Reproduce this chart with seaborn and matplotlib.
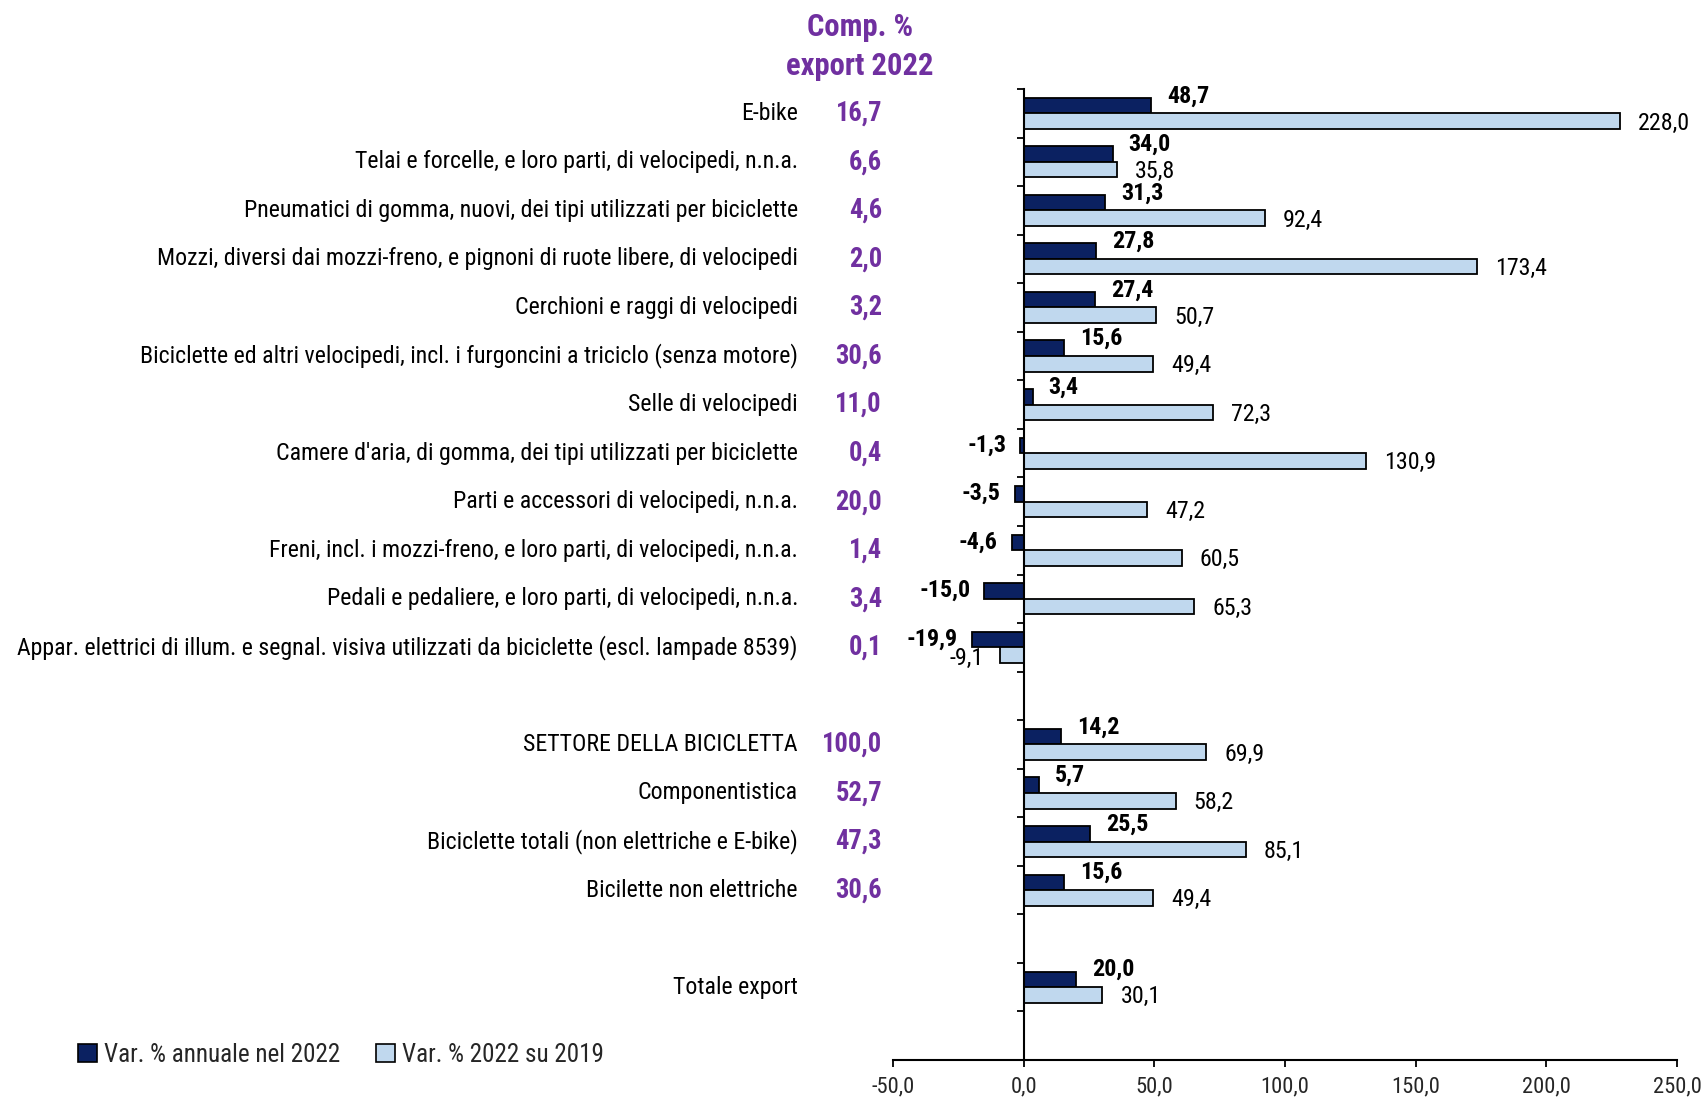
import numpy as np
import pandas as pd
import matplotlib
matplotlib.use("Agg")
import matplotlib.pyplot as plt
import seaborn as sns
from matplotlib import font_manager as fm
from matplotlib.patches import Patch
from matplotlib.ticker import FuncFormatter

# ---------------- data ----------------
categories = [
    "E-bike",
    "Telai e forcelle, e loro parti, di velocipedi, n.n.a.",
    "Pneumatici di gomma, nuovi, dei tipi utilizzati per biciclette",
    "Mozzi, diversi dai mozzi-freno, e pignoni di ruote libere, di velocipedi",
    "Cerchioni e raggi di velocipedi",
    "Biciclette ed altri velocipedi, incl. i furgoncini a triciclo (senza motore)",
    "Selle di velocipedi",
    "Camere d'aria, di gomma, dei tipi utilizzati per biciclette",
    "Parti e accessori di velocipedi, n.n.a.",
    "Freni, incl. i mozzi-freno, e loro parti, di velocipedi, n.n.a.",
    "Pedali e pedaliere, e loro parti, di velocipedi, n.n.a.",
    "Appar. elettrici di illum. e segnal. visiva utilizzati da biciclette (escl. lampade 8539)",
    "SETTORE DELLA BICICLETTA",
    "Componentistica",
    "Biciclette totali (non elettriche e E-bike)",
    "Bicilette non elettriche",
    "Totale export",
]
var_annuale_2022 = [48.7, 34.0, 31.3, 27.8, 27.4, 15.6, 3.4, -1.3, -3.5, -4.6, -15.0, -19.9,
                    14.2, 5.7, 25.5, 15.6, 20.0]
var_2022_su_2019 = [228.0, 35.8, 92.4, 173.4, 50.7, 49.4, 72.3, 130.9, 47.2, 60.5, 65.3, -9.1,
                    69.9, 58.2, 85.1, 49.4, 30.1]
comp_export_2022 = [16.7, 6.6, 4.6, 2.0, 3.2, 30.6, 11.0, 0.4, 20.0, 1.4, 3.4, 0.1,
                    100.0, 52.7, 47.3, 30.6, None]
series_names = ["Var. % annuale nel 2022", "Var. % 2022 su 2019"]
x_ticks = [-50, 0, 50, 100, 150, 200, 250]
header_lines = ["Comp. %", "export 2022"]

# category order with empty spacer slots
order = categories[:12] + [" "] + categories[12:16] + ["  "] + categories[16:] + ["   "]

df = pd.DataFrame({
    "category": categories * 2,
    "series": [series_names[0]] * len(categories) + [series_names[1]] * len(categories),
    "value": var_annuale_2022 + var_2022_su_2019,
})

# ---------------- style ----------------
sns.set_theme(style="white")
installed = {f.name for f in fm.fontManager.ttflist}
family = "Liberation Sans"
for cand in ["Liberation Sans Narrow", "Arial Narrow", "Roboto Condensed",
             "Open Sans Condensed", "Nimbus Sans Narrow"]:
    if cand in installed:
        family = cand
        break
plt.rcParams["font.family"] = [family, "Liberation Sans", "DejaVu Sans"]

dark = "#0b2161"
light = "#c0d8ee"
purple = "#7030a0"

W, H = 1708, 1106
fig = plt.figure(figsize=(W / 100, H / 100), dpi=100)

# scale font sizes so the texts span the same widths as in the reference
renderer = fig.canvas.get_renderer()


def fit_size(text, base, target_px, **kw):
    t = fig.text(0, 0, text, fontsize=base, **kw)
    w = t.get_window_extent(renderer).width
    t.remove()
    return base * target_px / w


FS_LABEL = fit_size(categories[11], 19, 783)
FS_COMP = fit_size("100,0", 20, 60, fontweight="bold")
FS_HEAD = fit_size("export 2022", 22, 147, fontweight="bold")
FS_VAL = fit_size("228,0", 18, 52)
FS_TICK = fit_size("100,0", 17, 49)
FS_LEG = fit_size(series_names[0], 18, 237)

ax_left, ax_right, ax_top, ax_bottom = 893, 1677, 89, 1060
ax = fig.add_axes([ax_left / W, 1 - ax_bottom / H, (ax_right - ax_left) / W, (ax_bottom - ax_top) / H])

sns.barplot(data=df, x="value", y="category", hue="series", order=order,
            hue_order=series_names, palette=[dark, light], width=0.64, dodge=True,
            orient="h", edgecolor="black", linewidth=1.3, saturation=1,
            legend=False, ax=ax)

ax.set_xlim(-50, 250)
ax.set_ylim(len(order) - 0.5, -0.5)
ax.set_xlabel("")
ax.set_ylabel("")

for s in ["top", "right"]:
    ax.spines[s].set_visible(False)
ax.spines["left"].set_position(("data", 0))
ax.spines["left"].set_linewidth(1.5)
ax.spines["left"].set_color("black")
ax.spines["bottom"].set_linewidth(1.5)
ax.spines["bottom"].set_color("black")

ax.set_yticks(range(len(order)))
ax.set_yticklabels([])
ax.tick_params(axis="y", which="major", length=0)
ax.set_yticks(np.arange(-0.5, len(order) - 0.5, 1.0), minor=True)
ax.tick_params(axis="y", which="minor", length=5, width=1.3, direction="out", color="black", left=True)

ax.set_xticks(x_ticks)
ax.xaxis.set_major_formatter(FuncFormatter(lambda v, p: f"{v:.1f}".replace(".", ",")))
ax.tick_params(axis="x", which="major", length=5, width=1.3, direction="out", color="black",
               labelsize=FS_TICK, pad=7, bottom=True)

ytrans = ax.get_yaxis_transform()
label_x = (798 - ax_left) / (ax_right - ax_left)
comp_x = (882 - ax_left) / (ax_right - ax_left)


def fmt(v):
    return f"{v:.1f}".replace(".", ",")


for i, cat in enumerate(order):
    if cat not in categories:
        continue
    k = categories.index(cat)
    ax.text(label_x, i, cat, transform=ytrans, ha="right", va="center", fontsize=FS_LABEL, color="black")
    if comp_export_2022[k] is not None:
        ax.text(comp_x, i, fmt(comp_export_2022[k]), transform=ytrans, ha="right", va="center",
                fontsize=FS_COMP, fontweight="bold", color=purple)
    v1 = var_annuale_2022[k]
    v2 = var_2022_su_2019[k]
    if v1 >= 0:
        ax.annotate(fmt(v1), (v1, i - 0.36), xytext=(11.5, 0), textcoords="offset points",
                    ha="left", va="center", fontsize=FS_VAL, fontweight="bold", color="black")
    else:
        ax.annotate(fmt(v1), (v1, i - 0.17), xytext=(-10, 0), textcoords="offset points",
                    ha="right", va="center", fontsize=FS_VAL, fontweight="bold", color="black")
    if v2 >= 0:
        ax.annotate(fmt(v2), (v2, i + 0.2), xytext=(13, 0), textcoords="offset points",
                    ha="left", va="center", fontsize=FS_VAL, color="black")
    else:
        ax.annotate(fmt(v2), (v2, i + 0.22), xytext=(-11.5, 0), textcoords="offset points",
                    ha="right", va="center", fontsize=FS_VAL, color="black")

for line, ypix in zip(header_lines, [27, 66]):
    fig.text(860 / W, 1 - ypix / H, line, ha="center", va="center", fontsize=FS_HEAD,
             fontweight="bold", color=purple)

colors = [dark, light]
for name, col, xpix in zip(series_names, colors, [78, 376]):
    fig.legend([Patch(facecolor=col, edgecolor="black", linewidth=1.2)], [name],
               loc="center left", bbox_to_anchor=(xpix / W, 1 - 1055 / H),
               frameon=False, fontsize=FS_LEG, handlelength=0.75, handleheight=0.75,
               handletextpad=0.3, borderaxespad=0, borderpad=0)

fig.savefig("out.png", dpi=100)
